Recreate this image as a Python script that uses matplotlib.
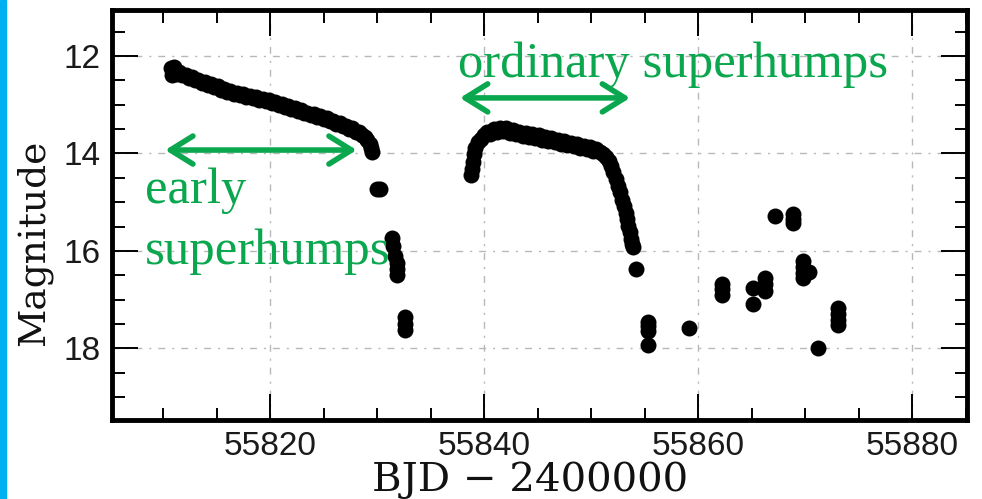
import matplotlib
matplotlib.use("Agg")
import matplotlib.pyplot as plt
from matplotlib.patches import Rectangle

# ---------------- data (BJD - 2400000, magnitude) ----------------
early_t = [55810.7, 55810.8, 55811.0, 55811.2, 55811.5, 55811.8, 55812.1, 55812.4,
           55812.7, 55813.0, 55813.3, 55813.6, 55813.9, 55814.2, 55814.5, 55814.8,
           55815.1, 55815.4, 55815.7, 55816.0, 55816.3, 55816.6, 55816.9, 55817.2,
           55817.5, 55817.8, 55818.1, 55818.4, 55818.7, 55819.0, 55819.3, 55819.6,
           55819.9, 55820.2, 55820.5, 55820.8, 55821.1, 55821.4, 55821.7, 55822.0,
           55822.3, 55822.6, 55822.9, 55823.2, 55823.5, 55823.8, 55824.1, 55824.4,
           55824.7, 55825.0, 55825.3, 55825.6, 55825.9, 55826.2, 55826.5, 55826.8,
           55827.1, 55827.4, 55827.7, 55828.0, 55828.3, 55828.6, 55828.9, 55829.1,
           55829.3, 55829.4, 55829.5]
early_m = [12.25, 12.40, 12.22, 12.36, 12.32, 12.40, 12.38, 12.46,
           12.44, 12.50, 12.49, 12.56, 12.53, 12.60, 12.58, 12.64,
           12.62, 12.69, 12.67, 12.73, 12.71, 12.77, 12.75, 12.80,
           12.79, 12.84, 12.82, 12.87, 12.85, 12.90, 12.88, 12.93,
           12.91, 12.97, 12.95, 13.01, 12.99, 13.05, 13.03, 13.09,
           13.07, 13.13, 13.11, 13.17, 13.16, 13.21, 13.20, 13.25,
           13.24, 13.29, 13.28, 13.34, 13.33, 13.39, 13.38, 13.44,
           13.43, 13.49, 13.48, 13.55, 13.56, 13.62, 13.66, 13.72,
           13.80, 13.88, 13.96]

fade_t = [55830.0, 55830.25, 55831.37, 55831.5, 55831.7, 55831.84, 55831.9,
          55831.9, 55832.6, 55832.6, 55832.6]
fade_m = [14.73, 14.73, 15.74, 15.90, 16.10, 16.25, 16.38,
          16.50, 17.35, 17.50, 17.62]

ordinary_t = [55838.8, 55838.9, 55839.0, 55839.1, 55839.2, 55839.4, 55839.7, 55840.0,
              55840.3, 55840.6, 55840.9, 55841.2, 55841.5, 55841.8, 55842.1, 55842.4,
              55842.7, 55843.0, 55843.3, 55843.6, 55843.9, 55844.2, 55844.5, 55844.8,
              55845.1, 55845.4, 55845.7, 55846.0, 55846.3, 55846.6, 55846.9, 55847.2,
              55847.5, 55847.8, 55848.1, 55848.4, 55848.7, 55849.0, 55849.3, 55849.6,
              55849.9, 55850.2, 55850.5, 55850.8, 55851.1, 55851.4, 55851.7, 55851.9,
              55852.1, 55852.3, 55852.5, 55852.7, 55852.9, 55853.1, 55853.3, 55853.4,
              55853.5, 55853.6, 55853.7, 55853.8, 55853.95, 55854.2]
ordinary_m = [14.45, 14.32, 14.18, 14.02, 13.88, 13.76, 13.70, 13.62,
              13.56, 13.60, 13.50, 13.55, 13.47, 13.54, 13.48, 13.58,
              13.52, 13.60, 13.55, 13.64, 13.58, 13.66, 13.60, 13.68,
              13.63, 13.72, 13.66, 13.74, 13.69, 13.77, 13.72, 13.80,
              13.75, 13.83, 13.78, 13.85, 13.81, 13.88, 13.84, 13.90,
              13.87, 13.94, 13.91, 13.98, 14.02, 14.08, 14.16, 14.26,
              14.38, 14.52, 14.66, 14.80, 14.95, 15.08, 15.22, 15.35,
              15.48, 15.62, 15.75, 15.85, 15.92, 16.38]

late_t = [55855.3, 55855.3, 55855.3, 55855.3, 55859.16,
          55862.2, 55862.2, 55862.2, 55865.17, 55865.17,
          55866.26, 55866.26, 55866.26, 55867.2,
          55868.85, 55868.85, 55868.85,
          55869.84, 55869.84, 55869.84, 55869.84, 55870.4,
          55871.25, 55873.1, 55873.1, 55873.1, 55873.1]
late_m = [17.45, 17.55, 17.65, 17.93, 17.59,
          16.68, 16.78, 16.90, 16.77, 17.08,
          16.55, 16.68, 16.82, 15.28,
          15.25, 15.35, 15.42,
          16.20, 16.32, 16.45, 16.55, 16.43,
          18.00, 17.18, 17.30, 17.42, 17.52]

x_major = [55820, 55840, 55860, 55880]
y_major = [12, 14, 16, 18]

early_arrow = (55810.2, 55828.1, 13.93)
ordinary_arrow = (55837.75, 55853.65, 12.86)

GREEN = '#0aa74f'

# ---------------- figure ----------------
fig = plt.figure(figsize=(9.82, 4.99), dpi=100)
fig.patches.append(Rectangle((0, 0), 6 / 982, 1, transform=fig.transFigure,
                             color='#00b0f0', zorder=0))

ax = fig.add_axes([112 / 982, 1 - 420 / 499, (967 - 112) / 982, (420 - 10) / 499])

for t, m in [(early_t, early_m), (fade_t, fade_m), (ordinary_t, ordinary_m), (late_t, late_m)]:
    ax.plot(t, m, 'o', ms=11.5, color='black', mec='none', zorder=3)

ax.set_xlim(55805.23, 55885.14)
ax.set_ylim(19.47, 11.056)

ax.set_xticks(x_major)
ax.set_xticks([v for v in range(55810, 55886, 5) if v % 20 != 0], minor=True)
ax.set_yticks(y_major)
ax.set_yticks([11.5, 12.5, 13, 13.5, 14.5, 15, 15.5, 16.5, 17, 17.5, 18.5, 19], minor=True)

ax.tick_params(which='both', direction='in', top=True, right=True, width=1.4,
               color='black')
ax.tick_params(which='major', length=18.5, pad=8, labelsize=24)
ax.tick_params(which='minor', length=9)
for lab in ax.get_xticklabels() + ax.get_yticklabels():
    lab.set_fontfamily('Liberation Sans')
    lab.set_color('#1a1a1a')

for s in ax.spines.values():
    s.set_linewidth(3.5)

ax.grid(True, which='major', color='#b8b8b8', lw=1.0, dashes=(5, 5, 1.5, 5))
ax.set_axisbelow(True)

# arrows
for (x0, x1, y) in [early_arrow, ordinary_arrow]:
    ax.annotate('', xy=(x1, y), xytext=(x0, y),
                arrowprops=dict(arrowstyle='<->,head_length=0.45,head_width=0.28',
                                lw=4, color=GREEN, mutation_scale=36,
                                shrinkA=0, shrinkB=0), zorder=4)

# annotation texts
tf = dict(family='Liberation Serif', fontsize=36.5, color=GREEN, va='baseline', ha='left', zorder=5)
ax.text(55808.3, 15.02, 'early', **tf)
ax.text(55808.3, 16.26, 'superhumps', **tf)
ax.text(55837.6, 12.43, 'ordinary superhumps', **tf)

# axis labels
fig.text(530 / 982, 8 / 499, 'BJD \u2212 2400000', family='DejaVu Serif', fontsize=29,
         ha='center', va='baseline', color='#111111')
fig.text(34 / 982, 1 - 243 / 499, 'Magnitude', family='DejaVu Serif', fontsize=27,
         rotation=90, ha='center', va='center', color='#111111')

fig.savefig('out.png', dpi=100)
